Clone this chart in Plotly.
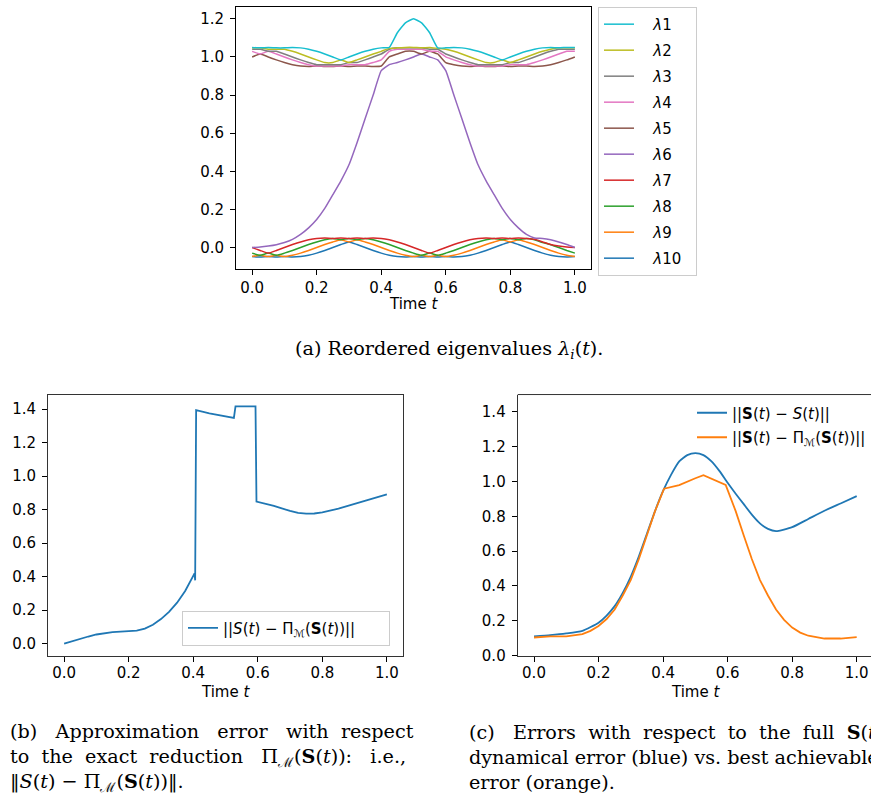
import plotly.graph_objects as go

W, H = 871, 804

# ---------------- data: (a) reordered eigenvalues ----------------
t_eig = [0.0, 0.025, 0.05, 0.075, 0.1, 0.125, 0.15, 0.175, 0.2, 0.225,
         0.25, 0.275, 0.3, 0.325, 0.35, 0.375, 0.4, 0.425, 0.45, 0.475,
         0.5, 0.525, 0.55, 0.575, 0.6, 0.625, 0.65, 0.675, 0.7, 0.725,
         0.75, 0.775, 0.8, 0.825, 0.85, 0.875, 0.9, 0.925, 0.95, 0.975,
         1.0]

lam1 = [1.05, 1.0476, 1.05, 1.0476, 1.0476, 1.05, 1.0476, 1.0405, 1.0294, 1.0155,
        1.0, 0.9845, 1.0, 1.0155, 1.0294, 1.0405, 1.0476, 1.05, 1.127, 1.179,
        1.2, 1.179, 1.127, 1.0476, 1.0476, 1.05, 1.0476, 1.0405, 1.0294, 1.0155,
        1.0, 0.9845, 1.0, 1.0155, 1.0294, 1.0405, 1.0476, 1.05, 1.0476, 1.05,
        1.05]
lam2 = [1.0476, 1.0476, 1.0405, 1.0405, 1.0405, 1.0294, 1.0155, 1.0, 0.9845, 0.9706,
        0.9706, 0.9845, 0.9706, 0.9845, 1.0, 1.0155, 1.0294, 1.045, 1.0476, 1.05,
        1.05, 1.0476, 1.05, 1.045, 1.0405, 1.0294, 1.0155, 1.0, 0.9845, 0.9706,
        0.9706, 0.9845, 0.9706, 0.9845, 1.0, 1.0155, 1.0294, 1.0405, 1.0476, 1.0476,
        1.0476]
lam3 = [1.0405, 1.0405, 1.0294, 1.0294, 1.0155, 1.0, 0.9845, 0.9706, 0.9595, 0.9595,
        0.9595, 0.9595, 0.9706, 0.9706, 0.9845, 1.0, 1.0155, 1.0405, 1.0476, 1.0476,
        1.0476, 1.0476, 1.0405, 1.0405, 1.0155, 1.0, 0.9845, 0.9706, 0.9595, 0.9595,
        0.9595, 0.9595, 0.9706, 0.9706, 0.9845, 1.0, 1.0155, 1.0294, 1.0405, 1.0405,
        1.0405]
lam4 = [1.0294, 1.0155, 1.0294, 1.0155, 1.0, 0.9845, 0.9706, 0.9595, 0.9524, 0.9524,
        0.9524, 0.9524, 0.9595, 0.9595, 0.9595, 0.9706, 0.9845, 1.0294, 1.0405, 1.0405,
        1.0405, 1.0405, 1.0294, 1.0294, 1.0, 0.9845, 0.9706, 0.9595, 0.9524, 0.9524,
        0.9524, 0.9524, 0.9595, 0.9595, 0.9595, 0.9706, 0.9845, 1.0, 1.0155, 1.0294,
        1.0294]
lam5 = [1.0, 1.0155, 1.0, 0.9845, 0.9706, 0.9595, 0.9524, 0.95, 0.9524, 0.95,
        0.95, 0.9524, 0.95, 0.9524, 0.9524, 0.95, 0.9524, 1.0, 1.0155, 1.0294,
        1.0294, 1.0155, 1.0294, 1.0155, 0.9706, 0.9595, 0.9524, 0.95, 0.9524, 0.95,
        0.95, 0.9524, 0.95, 0.9524, 0.9524, 0.95, 0.9524, 0.9595, 0.9706, 0.9845,
        1.0]
lam6 = [0.0, 0.003, 0.008, 0.015, 0.026, 0.043, 0.069, 0.103, 0.147, 0.205,
        0.277, 0.35, 0.434, 0.55, 0.676, 0.80, 0.928, 0.9595, 0.9706, 0.9845,
        1.0, 1.0155, 1.0, 0.9845, 0.928, 0.80, 0.676, 0.55, 0.434, 0.35,
        0.277, 0.205, 0.147, 0.103, 0.069, 0.05, 0.0476, 0.0405, 0.0294, 0.0155,
        0.0]
lam7 = [0.0, -0.0155, -0.0294, -0.0155, 0.0, 0.0155, 0.0294, 0.0405, 0.0476, 0.05,
        0.0476, 0.05, 0.0476, 0.05, 0.0476, 0.05, 0.0476, 0.0405, 0.0294, 0.0155,
        0.0, -0.0155, -0.0294, -0.0155, 0.0, 0.0155, 0.0294, 0.0405, 0.0476, 0.05,
        0.0476, 0.05, 0.0476, 0.05, 0.0476, 0.043, 0.0294, 0.0155, 0.008, 0.003,
        0.0]
lam8 = [-0.0294, -0.0405, -0.0294, -0.0405, -0.0294, -0.0155, 0.0, 0.0155, 0.0294, 0.0405,
        0.0476, 0.0405, 0.0476, 0.0405, 0.0476, 0.0405, 0.0294, 0.0155, 0.0, -0.0155,
        -0.0294, -0.0405, -0.0294, -0.0405, -0.0294, -0.0155, 0.0, 0.0155, 0.0294, 0.0405,
        0.0476, 0.0405, 0.0476, 0.0405, 0.0476, 0.0405, 0.026, 0.015, 0.0, -0.0155,
        -0.0294]
lam9 = [-0.0476, -0.0405, -0.0476, -0.0405, -0.0476, -0.0405, -0.0294, -0.0155, 0.0, 0.0155,
        0.0294, 0.0405, 0.0294, 0.0405, 0.0294, 0.0155, 0.0, -0.0155, -0.0294, -0.0405,
        -0.0476, -0.0405, -0.0476, -0.0405, -0.0476, -0.0405, -0.0294, -0.0155, 0.0, 0.0155,
        0.0294, 0.0405, 0.0294, 0.0405, 0.0294, 0.0155, 0.0, -0.0155, -0.0294, -0.0405,
        -0.0476]
lam10 = [-0.0476, -0.05, -0.0476, -0.05, -0.0476, -0.05, -0.0476, -0.0405, -0.0294, -0.0155,
         0.0, 0.0155, 0.0294, 0.0155, 0.0, -0.0155, -0.0294, -0.0405, -0.0476, -0.05,
         -0.0476, -0.05, -0.0476, -0.05, -0.0476, -0.05, -0.0476, -0.0405, -0.0294, -0.0155,
         0.0, 0.0155, 0.0294, 0.0155, 0.0, -0.0155, -0.0294, -0.0405, -0.0476, -0.05,
         -0.0476]
lam_names = ["λ1", "λ2", "λ3", "λ4", "λ5", "λ6", "λ7", "λ8", "λ9", "λ10"]

# ---------------- data: (b) approximation error ----------------
t_b = [0.0, 0.025, 0.05, 0.075, 0.1, 0.125, 0.15, 0.175, 0.2, 0.225,
       0.25, 0.275, 0.3, 0.325, 0.35, 0.375, 0.4, 0.404, 0.406, 0.409,
       0.45, 0.5, 0.526, 0.531, 0.56, 0.593, 0.596, 0.65, 0.7, 0.725,
       0.75, 0.775, 0.8, 0.85, 0.9, 0.95, 1.0]
err_b = [0.0, 0.015, 0.029, 0.043, 0.055, 0.064, 0.069, 0.072, 0.074, 0.078,
         0.09, 0.113, 0.147, 0.19, 0.245, 0.315, 0.405, 0.42, 0.378, 1.394,
         1.375, 1.355, 1.347, 1.416, 1.416, 1.416, 0.848, 0.822, 0.792, 0.781,
         0.776, 0.777, 0.783, 0.806, 0.834, 0.862, 0.891]
name_b = "||<i>S</i>(<i>t</i>) − Π<sub>ℳ</sub>(<b>S</b>(<i>t</i>))||"

# ---------------- data: (c) errors w.r.t. full S(t) ----------------
t_c = [0.0, 0.05, 0.1, 0.15, 0.2, 0.225, 0.25, 0.275, 0.3, 0.325,
       0.35, 0.375, 0.4, 0.425, 0.45, 0.475, 0.5, 0.525, 0.55, 0.575,
       0.6, 0.625, 0.65, 0.675, 0.7, 0.725, 0.75, 0.8, 0.85, 0.9, 0.95, 1.0]
dyn_err = [0.110, 0.117, 0.127, 0.142, 0.189, 0.23, 0.284, 0.36, 0.454, 0.57,
           0.700, 0.83, 0.946, 1.04, 1.116, 1.152, 1.163, 1.152, 1.116, 1.06,
           0.993, 0.93, 0.870, 0.81, 0.760, 0.728, 0.715, 0.738, 0.785, 0.832, 0.874, 0.916]
t_o = [0.0, 0.05, 0.1, 0.15, 0.175, 0.2, 0.225, 0.25, 0.275, 0.3, 0.325,
       0.35, 0.375, 0.403, 0.45, 0.5, 0.525, 0.594, 0.625, 0.65, 0.675,
       0.7, 0.725, 0.75, 0.775, 0.8, 0.825, 0.85, 0.875, 0.9, 0.95, 1.0]
best_err = [0.104, 0.110, 0.110, 0.123, 0.142, 0.170, 0.21, 0.265, 0.345, 0.435, 0.555,
            0.690, 0.83, 0.959, 0.980, 1.019, 1.037, 0.98, 0.83, 0.69, 0.555,
            0.435, 0.345, 0.265, 0.205, 0.161, 0.132, 0.114, 0.104, 0.098, 0.098, 0.106]
name_dyn = "||<b>S</b>(<i>t</i>) − <i>S</i>(<i>t</i>)||"
name_best = "||<b>S</b>(<i>t</i>) − Π<sub>ℳ</sub>(<b>S</b>(<i>t</i>))||"

# ---------------- styling ----------------
TAB = ["#17becf", "#bcbd22", "#7f7f7f", "#e377c2", "#8c564b",
       "#9467bd", "#d62728", "#2ca02c", "#ff7f0e", "#1f77b4"]
SANS = "DejaVu Sans"
SERIF = "DejaVu Serif"
TICKFONT = dict(family=SANS, size=15, color="black")
NB = "\u00a0"
LEAD = NB * 3
TRAIL = NB * 2

fig = go.Figure()
lams = [lam1, lam2, lam3, lam4, lam5, lam6, lam7, lam8, lam9, lam10]
for k in range(9, -1, -1):
    fig.add_trace(go.Scatter(
        x=t_eig, y=lams[k], mode="lines",
        name=LEAD + "<i>λ</i>" + lam_names[k][1:] + TRAIL,
        line=dict(color=TAB[k], width=1.5, shape="spline", smoothing=0.4),
        xaxis="x", yaxis="y", legend="legend", legendgroup="g%d" % k,
        legendrank=k + 1))

fig.add_trace(go.Scatter(
    x=t_b, y=err_b, mode="lines", name=name_b + NB * 6,
    line=dict(color="#1f77b4", width=1.8),
    xaxis="x2", yaxis="y2", legend="legend2"))

fig.add_trace(go.Scatter(
    x=t_c, y=dyn_err, mode="lines", name=name_dyn,
    line=dict(color="#1f77b4", width=1.8, shape="spline", smoothing=0.5),
    xaxis="x3", yaxis="y3", legend="legend3", legendgroup="c1"))
fig.add_trace(go.Scatter(
    x=t_o, y=best_err, mode="lines", name=name_best,
    line=dict(color="#ff7f0e", width=1.8),
    xaxis="x3", yaxis="y3", legend="legend3", legendgroup="c2"))


def px_x(p):
    return p / W


def px_y(p):
    return 1 - p / H


axis_common = dict(showline=True, linewidth=1, ticks="outside", ticklen=5,
                   tickwidth=1, tickcolor="black", showgrid=False, zeroline=False,
                   tickfont=TICKFONT, tickformat=".1f", tick0=0, dtick=0.2)
xa_top = dict(axis_common, ticklabelstandoff=0)
xa_bot = dict(axis_common, ticklabelstandoff=-2)
ya = dict(axis_common, ticklabelstandoff=3)

fig.update_layout(
    width=W, height=H, autosize=False,
    margin=dict(l=0, r=0, t=0, b=0),
    paper_bgcolor="white", plot_bgcolor="white",
    font=dict(family=SANS, size=15, color="black"),
    xaxis=dict(domain=[px_x(236), px_x(591)], range=[-0.05, 1.05], anchor="y",
               mirror=True, linecolor="black", **xa_top),
    yaxis=dict(domain=[px_y(272), px_y(7)], range=[-0.1125, 1.2625], anchor="x",
               mirror=True, linecolor="black", **ya),
    xaxis2=dict(domain=[px_x(48), px_x(403)], range=[-0.05, 1.05], anchor="y2",
                mirror=True, linecolor="#333333", **xa_bot),
    yaxis2=dict(domain=[px_y(663), px_y(399)], range=[-0.0708, 1.4868], anchor="x2",
                mirror=True, linecolor="#333333", **ya),
    xaxis3=dict(domain=[px_x(517.7), 1.0], range=[-0.0505, 1.0443], anchor="y3",
                linecolor="#333333", ticklabeloverflow="allow", **xa_bot),
    yaxis3=dict(domain=[px_y(663), px_y(399)], range=[0, 1.5], anchor="x3",
                linecolor="#333333", **ya),
    legend=dict(x=px_x(598), xanchor="left", y=px_y(7), yanchor="top",
                bordercolor="#cccccc", borderwidth=1, bgcolor="white",
                font=dict(family=SANS, size=15, color="black"),
                tracegroupgap=3.5, traceorder="grouped"),
    legend2=dict(x=px_x(182), xanchor="left", y=px_y(653), yanchor="bottom",
                 bordercolor="#cccccc", borderwidth=1, bgcolor="white",
                 font=dict(family=SANS, size=15, color="black")),
    legend3=dict(x=1.0, xanchor="right", y=px_y(401), yanchor="top",
                 borderwidth=0, bgcolor="rgba(255,255,255,0)",
                 font=dict(family=SANS, size=15, color="black"),
                 tracegroupgap=2, traceorder="grouped"),
    showlegend=True,
)

# top spine of panel (c)
fig.add_shape(type="line", xref="x3 domain", yref="y3 domain",
              x0=0, x1=1, y0=1, y1=1, line=dict(color="#333333", width=1))

annotations = []
CAPFONT = dict(family=SERIF, size=19.2, color="black")


def txt(text, x, y, anchor="left", font=None):
    annotations.append(dict(text=text, x=px_x(x), y=px_y(y), xref="paper", yref="paper",
                            xanchor=anchor, yanchor="middle", showarrow=False,
                            align="left", font=font or CAPFONT))


def join(words, gaps):
    out = words[0]
    for w, g in zip(words[1:], gaps):
        out += NB * g + w
    return out


axfont = dict(family=SANS, size=15, color="black")
txt("Time <i>t</i>", 413.5, 307, "center", axfont)
txt("Time <i>t</i>", 225.5, 700, "center", axfont)
txt("Time <i>t</i>", 695, 700, "center", axfont)

txt("(a) Reordered eigenvalues <i>λ<sub>i</sub></i>(<i>t</i>).", 449, 353, "center")

# caption (b): three lines, first two justified by widened word gaps
cap_b = "<br>".join([
    join(["(b)", "Approximation", "error", "with", "respect"], [3, 3, 3, 2]),
    join(["to", "the", "exact", "reduction",
          "Π<sub>ℳ</sub>(<b>S</b>(<i>t</i>)):", "i.e.,"], [2, 2, 2, 3, 3]),
    "‖<i>S</i>(<i>t</i>) − Π<sub>ℳ</sub>(<b>S</b>(<i>t</i>))‖.",
])
txt(cap_b, 8, 766)

# caption (c): runs past the right edge like the reference
cap_c = "<br>".join([
    join(["(c)", "Errors", "with", "respect", "to", "the", "full",
          "<b>S</b>(<i>t</i>)"], [3, 2, 2, 2, 2, 2, 2]),
    "dynamical error (blue) vs. best achievable",
    "error (orange).",
])
txt(cap_c, 467, 766)

fig.update_layout(annotations=annotations)

fig.write_html("out.html", config={"displayModeBar": False},
               post_script="document.body.style.margin='0px';")
